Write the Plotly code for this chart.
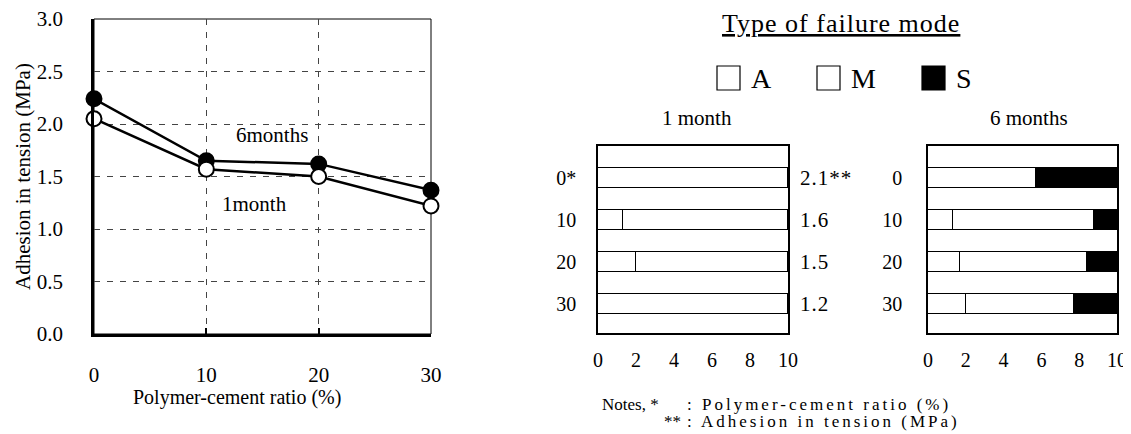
import plotly.graph_objects as go

# ---------------- data ----------------
ratios = [0, 10, 20, 30]
adh_1m = [2.05, 1.57, 1.50, 1.22]
adh_6m = [2.24, 1.65, 1.62, 1.37]

cat_pos = [0, 1, 2, 3]
cat_labels_1m = ["0*", "10", "20", "30"]
cat_labels_6m = ["0", "10", "20", "30"]

fail_1m_A = [0.0, 1.3, 2.0, 0.0]
fail_1m_M = [10.0, 8.7, 8.0, 10.0]
fail_1m_S = [0.0, 0.0, 0.0, 0.0]

fail_6m_A = [0.0, 1.3, 1.7, 2.0]
fail_6m_M = [5.7, 7.5, 6.7, 5.7]
fail_6m_S = [4.3, 1.2, 1.6, 2.3]

adh_label_1m = ["2.1**", "1.6", "1.5", "1.2"]
adh_label_6m = ["2.2", "1.7", "1.6", "1.4"]

legend_names = ["A", "M", "S"]
legend_fill = ["white", "white", "black"]

# the page body adds an 8px margin, so the figure is placed at (8, 8)
OX, OY = 8, 8
W, H = 1131 - OX, 434 - OY
FONT = "Liberation Serif"


def px(x):
    return (x - OX) / W


def py(y):
    return 1 - (y - OY) / H


def spaced(s, sp):
    return '<span style="letter-spacing:%spx">%s</span>' % (sp, s)


fig = go.Figure()

# ---------------- left line chart ----------------
fig.add_trace(go.Scatter(
    x=ratios, y=adh_6m, mode="lines+markers", xaxis="x", yaxis="y",
    line=dict(color="black", width=2.5),
    marker=dict(symbol="circle", size=15, color="black", line=dict(color="black", width=2)),
    cliponaxis=False, showlegend=False))
fig.add_trace(go.Scatter(
    x=ratios, y=adh_1m, mode="lines+markers", xaxis="x", yaxis="y",
    line=dict(color="black", width=2.5),
    marker=dict(symbol="circle", size=15, color="white", line=dict(color="black", width=2)),
    cliponaxis=False, showlegend=False))

# ---------------- failure mode bars ----------------
bar_style = dict(orientation="h", width=0.48, showlegend=False)
for xa, ya, A, M, S in [("x2", "y2", fail_1m_A, fail_1m_M, fail_1m_S),
                        ("x3", "y3", fail_6m_A, fail_6m_M, fail_6m_S)]:
    for vals, col in zip([A, M, S], legend_fill):
        fig.add_trace(go.Bar(
            x=vals, y=cat_pos, xaxis=xa, yaxis=ya,
            marker=dict(color=col, line=dict(color="black", width=1.5)),
            **bar_style))

tickfont = dict(family=FONT, size=21, color="black")
barfont = dict(family=FONT, size=20, color="black")

fig.update_layout(
    template="none",
    width=W, height=H,
    margin=dict(l=0, r=0, t=0, b=0, autoexpand=False),
    paper_bgcolor="white", plot_bgcolor="white",
    barmode="stack", bargap=0,
    font=dict(family=FONT, color="black"),
    xaxis=dict(domain=[px(94), px(431)], range=[0, 30], automargin=False,
               tickvals=ratios, ticks="inside", ticklen=6, tickwidth=2, tickcolor="black",
               showline=True, linecolor="black", linewidth=2.5,
               showgrid=True, gridcolor="#444", griddash="6px,7px", gridwidth=1,
               zeroline=False, tickfont=tickfont, ticklabelstandoff=20,
               ticklabeloverflow="allow"),
    yaxis=dict(domain=[py(334), py(19)], range=[0, 3.0], automargin=False,
               tickvals=[0, 0.5, 1.0, 1.5, 2.0, 2.5, 3.0], tickformat=".1f",
               ticks="", showline=True, linecolor="black", linewidth=2.5,
               showgrid=True, gridcolor="#444", griddash="6px,7px", gridwidth=1,
               zeroline=False, tickfont=tickfont, ticklabelstandoff=24,
               ticklabeloverflow="allow"),
    xaxis2=dict(domain=[px(598), px(788)], range=[0, 10], anchor="y2", automargin=False,
                tickvals=[0, 2, 4, 6, 8, 10], ticks="", showgrid=False, zeroline=False,
                showline=True, mirror=True, linecolor="black", linewidth=1.5,
                tickfont=barfont, ticklabelstandoff=8, ticklabeloverflow="allow"),
    yaxis2=dict(domain=[py(333), py(146)], range=[3.69, -0.76], anchor="x2", automargin=False,
                tickvals=cat_pos, ticktext=cat_labels_1m, ticks="", showgrid=False,
                zeroline=False, showline=True, mirror=True, linecolor="black", linewidth=1.5,
                tickfont=barfont, ticklabelstandoff=16, ticklabeloverflow="allow"),
    xaxis3=dict(domain=[px(928), px(1117)], range=[0, 10], anchor="y3", automargin=False,
                tickvals=[0, 2, 4, 6, 8, 10], ticks="", showgrid=False, zeroline=False,
                showline=True, mirror=True, linecolor="black", linewidth=1.5,
                tickfont=barfont, ticklabelstandoff=8, ticklabeloverflow="allow"),
    yaxis3=dict(domain=[py(333), py(146)], range=[3.69, -0.76], anchor="x3", automargin=False,
                tickvals=cat_pos, ticktext=cat_labels_6m, ticks="", showgrid=False,
                zeroline=False, showline=True, mirror=True, linecolor="black", linewidth=1.5,
                tickfont=barfont, ticklabelstandoff=20, ticklabeloverflow="allow"),
)

# thin top/right border of the line chart
fig.add_shape(type="rect", xref="x domain", yref="y domain", x0=0, x1=1, y0=0, y1=1,
              line=dict(color="black", width=1), layer="below")

ann = []


def text(x, y, s, size=17, xanchor="center", yanchor="middle", angle=0, **kw):
    d = dict(x=x, y=y, text=s, showarrow=False, xanchor=xanchor, yanchor=yanchor,
             textangle=angle, font=dict(family=FONT, size=size, color="black"))
    d.update(kw)
    if "xref" not in d:
        d["xref"] = "paper"
    if "yref" not in d:
        d["yref"] = "paper"
    ann.append(d)


# left chart titles / labels
text(px(237), py(397), "Polymer-cement ratio (%)", size=20)
text(px(23), py(177), "Adhesion in tension (MPa)", size=21, angle=-90)
text(px(272), py(135), "6months", size=21)
text(px(254), py(204), "1month", size=21)

# right side header
text(px(841), py(24), "<u>" + spaced("Type of failure mode", 1) + "</u>", size=26)
text(px(697), py(118), "1 month", size=21)
text(px(1029), py(118), "6 months", size=21)

# legend
leg_x = [717, 817, 922]
for nm, col, lx in zip(legend_names, legend_fill, leg_x):
    fig.add_shape(type="rect", xref="paper", yref="paper",
                  x0=px(lx), x1=px(lx + 23), y0=py(90), y1=py(66),
                  line=dict(color="black", width=1.2), fillcolor=col)
    text(px(lx + 32), py(78), nm, size=28, xanchor="left")

# adhesion labels to the right of the bar charts
for i, s in enumerate(adh_label_1m):
    text(1, cat_pos[i], spaced(s, 1), size=21, xanchor="left", xref="x2 domain", yref="y2", xshift=10)
for i, s in enumerate(adh_label_6m):
    text(1, cat_pos[i], s, size=21, xanchor="left", xref="x3 domain", yref="y3", xshift=6)

# notes
text(px(600), py(404), "Notes, *", size=17, xanchor="left")
text(px(685), py(404), spaced(": Polymer-cement ratio (%)", 3), size=17, xanchor="left")
text(px(662), py(421), "**", size=17, xanchor="left")
text(px(685), py(421), spaced(": Adhesion in tension (MPa)", 3), size=17, xanchor="left")

fig.update_layout(annotations=ann)
fig.write_html("out.html")
